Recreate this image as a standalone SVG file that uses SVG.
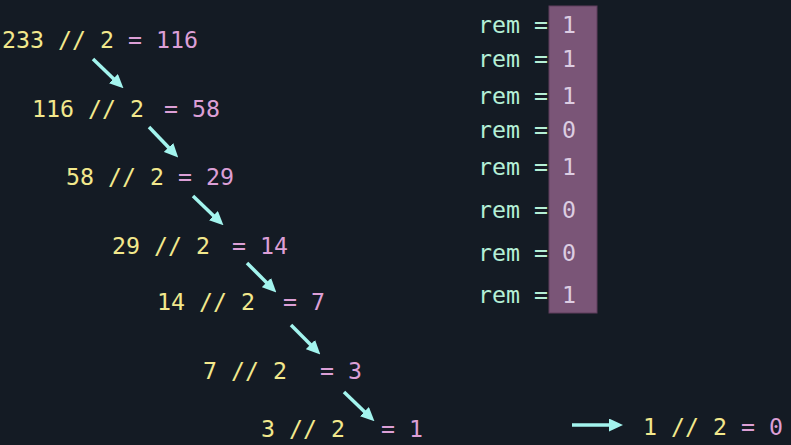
<svg xmlns="http://www.w3.org/2000/svg" width="791" height="445" viewBox="0 0 791 445">
<defs>
<style>
text{font-family:"DejaVu Sans Mono","Liberation Mono",monospace;font-size:23.25px;}
.y{fill:#f2e88c;}
.p{fill:#dc9fd6;}
.r{fill:#b4efd6;}
.d{fill:#dccde2;}
.a{stroke:#a3f4ee;stroke-width:3.5;fill:none;marker-end:url(#ah);}
</style>
<marker id="ah" markerUnits="userSpaceOnUse" markerWidth="14" markerHeight="13" refX="6" refY="6.5" orient="auto">
<path d="M0,0 L14,6.5 L0,13 Z" fill="#a3f4ee"/>
</marker>
</defs>
<rect x="0" y="0" width="791" height="445" fill="#141b24"/>
<g id="box"><rect x="549" y="6" width="48" height="307" fill="#7a5577" stroke="#5e3f5c" stroke-width="1"/></g>
<g id="div1"><text x="2" y="48" class="y">233 // 2</text><text x="128" y="48" class="p">= 116</text></g>
<g id="div2"><text x="32" y="117" class="y">116 // 2</text><text x="164" y="117" class="p">= 58</text></g>
<g id="div3"><text x="66" y="185" class="y">58 // 2</text><text x="178" y="185" class="p">= 29</text></g>
<g id="div4"><text x="112" y="254" class="y">29 // 2</text><text x="232" y="254" class="p">= 14</text></g>
<g id="div5"><text x="157" y="310" class="y">14 // 2</text><text x="283" y="310" class="p">= 7</text></g>
<g id="div6"><text x="203" y="379" class="y">7 // 2</text><text x="320" y="379" class="p">= 3</text></g>
<g id="div7"><text x="261" y="437" class="y">3 // 2</text><text x="381" y="437" class="p">= 1</text></g>
<g id="div8"><text x="643" y="435" class="y">1 // 2</text><text x="741" y="435" class="p">= 0</text></g>
<g id="rem1"><text x="478" y="33" class="r">rem =</text><text x="562" y="33" class="d">1</text></g>
<g id="rem2"><text x="478" y="67" class="r">rem =</text><text x="562" y="67" class="d">1</text></g>
<g id="rem3"><text x="478" y="104" class="r">rem =</text><text x="562" y="104" class="d">1</text></g>
<g id="rem4"><text x="478" y="138" class="r">rem =</text><text x="562" y="138" class="d">0</text></g>
<g id="rem5"><text x="478" y="175" class="r">rem =</text><text x="562" y="175" class="d">1</text></g>
<g id="rem6"><text x="478" y="218" class="r">rem =</text><text x="562" y="218" class="d">0</text></g>
<g id="rem7"><text x="478" y="261" class="r">rem =</text><text x="562" y="261" class="d">0</text></g>
<g id="rem8"><text x="478" y="303" class="r">rem =</text><text x="562" y="303" class="d">1</text></g>
<g id="connectors">
<path class="a" d="M93,59 L117.7,82.8"/>
<path class="a" d="M149,127 L172.7,151.8"/>
<path class="a" d="M193,196 L217.7,219.8"/>
<path class="a" d="M247,263 L270.7,286.8"/>
<path class="a" d="M291,325 L314.7,348.8"/>
<path class="a" d="M344,392 L368.7,415.8"/>
<path class="a" d="M572,425 L615,425"/>
</g>
</svg>
